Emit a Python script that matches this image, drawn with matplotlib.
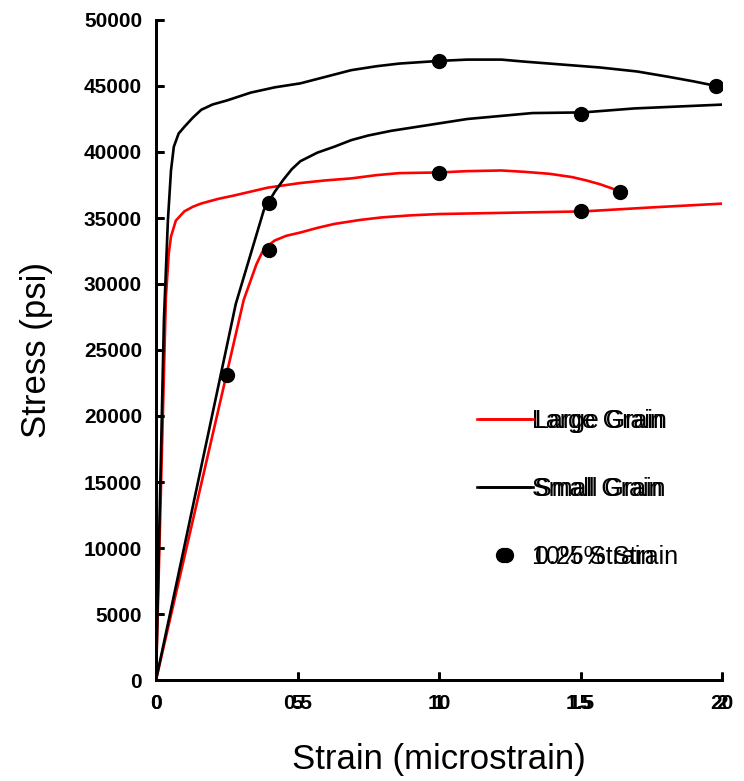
"""Stress-strain curves: two overlaid Excel-style charts (0-20 % and 0-2 %)."""
import matplotlib
matplotlib.use('Agg')
import matplotlib.pyplot as plt
from matplotlib.lines import Line2D

plt.rcParams['font.family'] = ['Liberation Sans', 'DejaVu Sans']

# ---- chart A: full range, strain 0-20 ----
large_a_x = [0, 0.35, 0.45, 0.53, 0.7, 1.0, 1.3, 1.6, 2.2, 2.75, 3.35, 3.95,
             5.1, 6.0, 6.9, 7.8, 8.6, 10.0, 11.0, 12.2, 13.0, 13.9, 14.7,
             15.2, 15.7, 16.1, 16.4]
large_a_y = [0, 29000, 32300, 33600, 34800, 35500, 35850, 36100, 36450, 36700,
             37000, 37300, 37650, 37850, 38000, 38250, 38400, 38450, 38550,
             38600, 38500, 38350, 38100, 37850, 37550, 37250, 37000]
small_a_x = [0, 0.28, 0.42, 0.53, 0.63, 0.8, 1.0, 1.3, 1.6, 2.0, 2.5, 3.35,
             4.2, 5.1, 6.0, 6.9, 7.8, 8.6, 10.0, 11.0, 12.2, 13.0, 13.9, 14.8,
             15.7, 17.0, 18.1, 19.0, 19.8]
small_a_y = [0, 27300, 34800, 38600, 40400, 41400, 41900, 42600, 43200, 43600,
             43900, 44500, 44900, 45200, 45700, 46200, 46500, 46700, 46900,
             47000, 47000, 46850, 46700, 46550, 46400, 46100, 45700, 45350,
             45000]
mark_a_x = [10.0, 19.8, 10.0, 16.4]
mark_a_y = [46900, 45000, 38400, 37000]

# ---- chart B: zoomed range, strain 0-2 ----
large_b_x = [0, 0.31, 0.335, 0.355, 0.375, 0.395, 0.42, 0.46, 0.51, 0.57,
             0.63, 0.72, 0.8, 0.9, 1.0, 1.25, 1.51, 1.75, 2.01]
large_b_y = [0, 28800, 30300, 31500, 32400, 32900, 33300, 33650, 33900,
             34250, 34550, 34850, 35050, 35200, 35300, 35400, 35500, 35800,
             36100]
small_b_x = [0, 0.282, 0.335, 0.381, 0.42, 0.45, 0.48, 0.51, 0.57, 0.63, 0.69,
             0.75, 0.83, 0.92, 1.04, 1.10, 1.33, 1.51, 1.69, 2.01]
small_b_y = [0, 28500, 32300, 35600, 37000, 37900, 38700, 39300, 39950, 40400,
             40900, 41250, 41600, 41900, 42300, 42500, 42950, 43000, 43300,
             43600]
mark_b_x = [0.25, 0.40, 0.40, 1.5, 1.5]
mark_b_y = [23100, 36100, 32600, 42900, 35500]

ticks_a = [0, 5, 10, 15, 20]
labels_a = ['0', '5', '10', '15', '20']
ticks_b = [0, 0.5, 1.0, 1.5, 2.0]
labels_b = ['0', '0.5', '1', '1.5', '2']
y_ticks = list(range(0, 50001, 5000))

W, H = 744, 781
fig = plt.figure(figsize=(W / 100, H / 100), dpi=100)
pos = [156 / W, 1 - 680 / H, (722 - 156) / W, (680 - 20) / H]
ax = fig.add_axes(pos)
ax2 = fig.add_axes(pos)
ax2.patch.set_alpha(0)

lw = 1.9
ax.plot(large_a_x, large_a_y, color='#ff0000', lw=lw)
ax.plot(small_a_x, small_a_y, color='black', lw=lw)
ax.plot(mark_a_x, mark_a_y, 'o', color='black', ms=10, ls='none')
ax2.plot(large_b_x, large_b_y, color='#ff0000', lw=lw)
ax2.plot(small_b_x, small_b_y, color='black', lw=lw)
ax2.plot(mark_b_x, mark_b_y, 'o', color='black', ms=10, ls='none')

ax.set_xlim(0, 20)
ax2.set_xlim(0, 2)
for a in (ax, ax2):
    a.set_ylim(0, 50000)
    a.spines['top'].set_visible(False)
    a.spines['right'].set_visible(False)
    for s in ('left', 'bottom'):
        a.spines[s].set_linewidth(2)
    a.tick_params(direction='in', length=6, width=2, labelsize=15, pad=10)
ax.set_xticks(ticks_a, labels_a, fontweight='bold')
ax2.set_xticks(ticks_b, labels_b, fontweight='bold')
ax.set_yticks(y_ticks, [str(v) for v in y_ticks], fontweight='bold')
ax2.set_yticks(y_ticks)
ax2.set_yticklabels([])

ax.set_xlabel('Strain (microstrain)', fontsize=25, labelpad=22)
ax.set_ylabel('Stress (psi)', fontsize=25, labelpad=22)

def legend_for(a, marker_label, dx, dy):
    handles = [Line2D([], [], color='#ff0000', lw=lw),
               Line2D([], [], color='black', lw=lw),
               Line2D([], [], color='black', marker='o', ms=10, ls='none')]
    labels = ['Large Grain', 'Small Grain', marker_label]
    leg = a.legend(handles, labels, loc='upper left',
                   bbox_to_anchor=((477 + dx) / W, 1 - (409 + dy) / H),
                   bbox_transform=fig.transFigure, frameon=False, fontsize=18,
                   borderpad=0, borderaxespad=0, handlelength=2.1,
                   handletextpad=0.1, labelspacing=1.75)
    return leg

legend_for(ax, '10% Strain', 0, 0)
legend_for(ax2, '0.25% Strain', 3, 0)

fig.savefig('out.png', dpi=100)
